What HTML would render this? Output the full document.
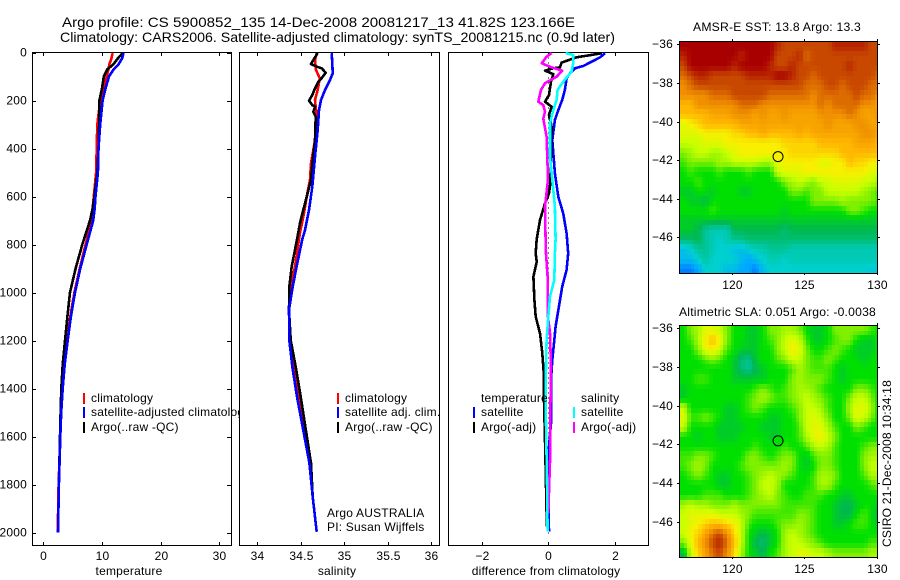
<!DOCTYPE html>
<html>
<head>
<meta charset="utf-8">
<title>Argo profile</title>
<style>
html,body{margin:0;padding:0;background:#fff;width:900px;height:580px;overflow:hidden}
svg{display:block;font-family:"Liberation Sans",sans-serif;fill:#000}
text{font-size:12px;letter-spacing:.2px}
.ttl{font-size:14px;letter-spacing:0}
</style>
</head>
<body>
<svg id="chart" width="900" height="580" viewBox="0 0 900 580" xmlns="http://www.w3.org/2000/svg">
<defs>
<clipPath id="clip-sst"><rect x="680" y="42" width="197" height="231"/></clipPath>
<clipPath id="clip-sla"><rect x="680" y="326" width="197" height="231"/></clipPath>
</defs>
<rect width="900" height="580" fill="#fff"/>
<g id="layer"></g>
<text class="ttl" x="62" y="27" textLength="513" lengthAdjust="spacingAndGlyphs">Argo profile: CS 5900852_135 14-Dec-2008 20081217_13 41.82S 123.166E</text>
<text class="ttl" x="60" y="42" textLength="555" lengthAdjust="spacingAndGlyphs">Climatology: CARS2006. Satellite-adjusted climatology: synTS_20081215.nc (0.9d later)</text>
<text x="129" y="575" text-anchor="middle">temperature</text>
<text x="337" y="575" text-anchor="middle">salinity</text>
<text x="546" y="575" text-anchor="middle">difference from climatology</text>
<text x="693" y="31" textLength="168" lengthAdjust="spacingAndGlyphs">AMSR-E SST: 13.8 Argo: 13.3</text>
<text x="679" y="316" textLength="197" lengthAdjust="spacingAndGlyphs">Altimetric SLA: 0.051 Argo: -0.0038</text>
<text transform="translate(891,547) rotate(-90)" textLength="167" lengthAdjust="spacingAndGlyphs">CSIRO 21-Dec-2008 10:34:18</text>
<text x="327" y="517">Argo AUSTRALIA</text>
<text x="327" y="531">PI: Susan Wijffels</text>
</svg>
<script>
// ---------- profile data ----------
const depthTicks = [0,200,400,600,800,1000,1200,1400,1600,1800,2000];
const tempTicks = [0,10,20,30];
const salTicks = [34,34.5,35,35.5,36];
const salTickLabels = ['34','34.5','35','35.5','36'];
const diffTicks = [-2,0,2];

const tempDepths = [3,25,50,70,100,150,200,300,400,500,600,650,700,800,900,1000,1100,1200,1300,1400,1500,1600,1800,2000];
const tempClim = [11.8,11.6,11.25,11.1,10.8,10.3,9.7,9.2,9.1,9.0,8.6,8.4,8.2,7.2,6.2,5.3,4.6,4.0,3.6,3.2,3.0,2.9,2.6,2.45];
const tempSat = [13.7,13.4,12.8,12.0,11.2,10.6,10.1,9.7,9.4,9.3,8.9,8.75,8.5,7.4,6.3,5.4,4.7,4.15,3.65,3.3,3.05,2.9,2.65,2.5];
const tempArgo = [13.5,12.7,11.9,10.9,10.3,10.0,9.55,9.5,9.4,9.2,8.7,8.4,7.95,6.65,5.5,4.55,4.1,3.7,3.3,3.07,2.95,2.85,2.65,2.5];

const salClimDepths = [3,31,73,108,156,198,240,267,365,462,531,601,670,753,892,976,1073,1198,1309,1434,1711,1851,1997];
const salClim = [34.684,34.664,34.676,34.72,34.695,34.664,34.676,34.684,34.664,34.618,34.607,34.569,34.538,34.49,34.434,34.385,34.365,34.375,34.42,34.48,34.61,34.638,34.684];
const salSatDepths = [3,45,87,115,156,198,240,323,434,559,656,740,778,892,976,1073,1198,1309,1434,1711,1851,1997];
const salSat = [34.857,34.864,34.868,34.837,34.78,34.733,34.71,34.695,34.664,34.633,34.595,34.549,34.518,34.453,34.408,34.365,34.368,34.403,34.457,34.6,34.638,34.684];
const salArgoDepths = [3,20,48,59,66,84,103,122,156,177,201,219,226,247,267,365,462,531,601,656,711,773,892,976,1073,1198,1309,1434,1711,1851,1997];
const salArgo = [34.695,34.664,34.618,34.684,34.741,34.787,34.749,34.703,34.656,34.633,34.595,34.633,34.664,34.645,34.672,34.664,34.633,34.618,34.569,34.53,34.492,34.461,34.396,34.368,34.365,34.385,34.442,34.5,34.618,34.638,34.684];

const diffTempSatDepths = [3,20,38,56,66,87,108,156,198,240,281,365,503,601,670,753,837,906,976,1059,1142,1198,1281,1365,1545,1642,1781,1996];
const diffTempSat = [1.71,1.56,1.31,1.06,.80,.65,.55,.50,.42,.30,.20,.12,.20,.30,.45,.55,.60,.55,.42,.32,.22,.18,.12,.08,.08,.02,0,.02];
const diffTempArgoDepths = [3,10,20,42,62,66,76,90,122,177,205,226,260,309,434,545,587,629,698,778,837,872,934,1031,1101,1170,1253,1351,1448,1615,1726,1920,1976];
const diffTempArgo = [1.61,1.31,.85,.40,.35,.15,-.10,.15,.08,.02,-.10,.10,.02,.10,.08,.06,.02,-.10,-.25,-.35,-.38,-.35,-.45,-.42,-.38,-.25,-.18,-.13,-.13,-.10,-.08,-.05,-.05];
const diffSalSatDepths = [3,10,45,80,122,156,198,240,295,434,531,642,778,837,948,1017,1101,1198,1309,1448,1781,1996];
const diffSalSat = [.52,.75,.75,.70,.45,.28,.25,.15,.05,.05,.12,.20,.22,.20,.18,.05,0,-.05,-.07,-.08,-.04,-.02];
const diffSalArgoDepths = [3,17,45,62,76,101,128,156,205,219,247,275,351,476,545,642,778,837,934,1087,1170,1309,1503,1670,1753,1920];
const diffSalArgo = [.10,-.05,-.20,.10,.42,.25,-.10,-.22,-.30,-.15,-.10,-.15,-.05,-.02,-.02,-.10,-.08,-.07,-.02,-.02,.05,.08,.06,.06,.04,0];

// ---------- map data (colour-scale units, 0 = blue ... 12 = dark red) ----------
const lonTicks = [120,125,130];
const latTicks = [-36,-38,-40,-42,-44,-46];
const gridLonStart = 116.38;
const gridLonStep = 0.5;
const gridLatStart = -35.87;
const gridLatStep = -0.5;
const argoLon = 123.17;
const argoLat = -41.82;
const argoSst = 8;
const argoSla = 5;
const sstGrid = [
[12,12,12,12,12,12,12,12,12,12,12,12,12,11.5,11,11,11,11,11,11,11,11.5,11.5,11.5,11.5,11.5,11,11],
[11.5,12,12,12,12,12,12,12,11.5,12,12,12,12,11,11,11,11.5,10.5,11,11,11,11,11,11,11,11,11,11],
[11,12,12,12,12,12,12,11.5,12,12,12,12,11.5,11,11,11.5,11,11,11,11,11,11,11,11.5,11,11,11,11],
[10.5,11,11.5,11.5,11,11,11,11,11,11.5,11.5,11.5,11.5,12,12,11.5,11,11,10.5,11,11,11,11,11,11,11,11,10.5],
[10,10.5,11,11,11,11,11,11,11,11,11,11,11,11,11,11,11,10.5,10.5,10.5,11,11,10.5,11,11,11,10.5,10.5],
[10,10,10,10,10.5,10.5,10.5,11,11,11,11,11,10.5,10.5,10.5,10.5,10.5,10.5,10,10.5,10.5,10.5,10.5,10.5,11,10.5,10.5,10],
[9,9,10,10,10,10,10,10,10.5,10.5,10.5,10,10,10,10,10,10,10,10,10.5,10,10.5,10.5,10.5,10.5,10,10,9.5],
[9,9,9,9,9.5,9.5,9.5,10,10,10,9.5,10,9.5,9.5,10,9.5,9.5,9.5,9.5,10,10,10,10,10.5,10,9.5,9.5,10],
[7.5,8,8.5,9,9,9,9,9,9.5,9.5,9.5,9.5,9.5,9.5,9.5,9.5,9.5,9.5,9.5,9.5,10,9.5,9.5,9.5,10,10,9.5,9.5],
[7.5,7.5,7.5,8,8,8,8,8.5,8.5,9,9,9.5,9,9,9,9,9.5,9,9.5,9.5,9.5,9.5,9.5,9.5,9.5,10,10,9.5],
[7,7,7,7.5,7.5,7.5,8,8,8,8,8,8,8,8,8.5,8.5,8.5,8.5,8.5,9,9,9,9,9,9.5,9.5,9.5,9],
[6,6.5,7,7,6.5,6.5,7,7.5,8,8,8,8,8,8,8,8.5,8.5,8.5,8.5,8.5,8.5,8.5,9,9,9,9,9,9],
[5.5,6,6,6,6,6.5,6.5,7,7,7,7,6.5,6.5,7.5,8,8,8,8,8,7.5,7.5,8,8,9,8.5,8.5,8,8],
[5,5.5,5,5,5,5.5,5,5,5,5.5,5,5,5,7,7.5,7.5,7.5,8,8,8,8,8,8,8,8,8,7.5,7],
[5,5,5.5,5,5,5,5,5,5,5,5,5,5,5,6,6.5,7,6.5,6,7,7,7.5,7.5,7.5,7.5,7,7,6.5],
[4.5,4.5,5,5,4.5,5,5,5,4.5,4.5,5,5,5,5,5,6,6,5.5,6,6,7,7,7,7,7,6.5,6,5.5],
[5,4.5,4.5,4,5,5,5,5,5,5,5,5,5,5,5,5,5,5,6,6,6,6,6.5,6,6,6,6,5.5],
[5,5,5,5,5.5,5,5,5,5,5,5,5,5,5,4.5,5,5,5,5,5,5,5,5,6,6,5.5,5,5],
[4.5,4.5,4.5,4.5,4.5,4.5,4.5,4.5,4.5,4.5,4.5,4.5,4.5,4.5,4.5,4.5,4.5,4.5,4.5,4.5,4.5,4.5,4.5,4.5,4.5,4.5,4.5,4.5],
[4.5,4.5,4,3,2.5,2.5,2.5,4,4,4,4,4,4,4,3.5,4,4,4,4,4,4,4,4,4,4,4,4,4],
[3.5,3.5,4,3,2.5,2,2.5,3,3,3.5,3.5,3.5,3.5,3.5,3.5,3.5,3.5,3.5,3.5,3.5,3.5,3.5,3.5,3.5,3.5,3.5,3.5,3.5],
[1.5,2,3,3,2.5,2,2,1.5,1.5,2,2.5,2.5,3,3,3,2.5,2.5,2.5,2.5,2.5,2.5,2.5,2.5,2.5,2.5,2.5,2.5,2.5],
[1.5,1.5,2,3,2,2,2,2,1.5,1,1.5,2,2.5,2.5,2,2.5,2.5,2.5,2.5,2.5,2.5,2.5,2.5,2.5,2.5,2.5,2.5,2.5],
[.5,.5,1,2,2,2,1.5,1.5,1,1,.5,1.5,2,2,2,2,2,2,2,2,2,2,2,2,2,2,1.8,1.8]
];
const slaGrid = [
[5,6,6.5,7.5,7.5,7,6,5,5,4.5,4.5,5,6,6,6.5,6.5,6,5,4.5,4.5,5,6,6,6,6,6,5.5,5],
[5,5.5,6.5,8,9,8,6,5,5,4.5,4.5,5,5.5,6,7,7.5,7,5.5,4.5,4.5,5,5.5,6,6,5,4.5,4.5,5],
[5,5,6,7.5,8,7,5.5,5,4.5,4.5,4.5,5,5,6,7,8,7.5,6,5,5,5.5,6,5.5,5,4.5,4.5,4.5,5],
[5,5,5,5.5,6,5.5,5,4.5,3.5,3,4.5,5,5,5.5,6,7,7,6,5.5,5.5,6,5.5,5,5,5,4.5,5,5],
[5,5,5,5,5,5,5,4.5,3.5,3,4,4.5,5,5,5,5.5,6.5,6,5.5,5.5,5.5,5,4.5,5,5,5,5,5],
[5,5,5.5,5.5,5,5,5,4.5,4.5,4.5,4.5,4.5,5,5,5,6,6.5,6,6,6,5.5,5,4.5,5,5,5,5,5],
[4.5,5,5,5,5,5,5,5,5,5,5.5,6,5.5,5,5.5,6,6.5,6.5,6,5.5,5,5,5,5,6,6,5.5,5],
[4.5,5,5,5,5,5,5,5,5,5.5,6,6.5,6,5.5,5.5,6,6.5,7,6.5,6,5.5,5,5,6,7,7,6,5],
[7,5,5,5,5,5,4.5,4.5,5,5.5,6,5.5,5,5,5,5.5,6,7,7,6.5,5.5,5,5,6.5,7.5,7.5,6.5,5],
[7.5,5.5,5.5,6,5.5,5,4.5,4.5,5,5,5,5,4.5,4.5,5,5,6,7,7.5,7,6,5,5,6,7.5,7,6,5],
[7,5,5,5,5,4.5,4.5,4.5,4.5,5,5,4.5,4.5,4.5,5,5,5.5,7,7.5,7.5,6.5,5.5,5,5,6,5.5,5,5],
[5,5,4.5,5,5,4.5,4.5,4.5,5,5,5,5,4.5,4.5,5,5,5.5,6.5,7.5,8,7,6,5,5,5,5,5,5],
[5,5,5,5,5,5,5,5,5,5,5.5,5,5,5,5.5,5,5,5.5,6.5,7,6.5,5.5,5,5,5,5.5,6,6],
[5.5,5.5,6,6,5.5,5,5,5,5,6,6,5.5,5,5.5,6,6,5,4.5,5.5,6,6,5.5,5,5,5,6,6.5,6.5],
[5.5,6,6.5,6,5,5,5,5,5.5,6,6,6,6,6,6.5,6,5,4.5,5,6,6,5.5,5,5,5,6,7,7],
[5,5.5,6,5.5,5,4.5,4.5,5,5,5.5,6,6.5,7,6.5,6,5.5,5,5,5.5,6.5,6.5,6,5,5,5,5.5,6.5,6.5],
[5,5,5,5,5,4.5,4.5,5,5,5.5,6,7,7,6.5,5,5,5,5,5.5,6.5,6.5,5.5,5,5,5,5,5.5,6],
[5,5,5,5.5,5.5,5.5,5,5,5,5.5,6,6.5,7,6,5.5,5,5,5.5,5.5,5.5,5,5,4.5,4.5,5,5,5,5],
[6.5,7,6.5,6.5,6,6,6,6.5,6,6,6,6,6,6,5.5,5.5,5.5,5.5,5.5,5,5,4.5,4,4,4.5,5,5,4.5],
[7,7.5,7.5,7.5,7.5,7,7,7,6.5,6,5.5,5.5,5.5,5.5,5.5,5.5,6,6,5.5,5,5,4.5,4,4,5,5.5,5,4],
[7,7.5,8,8.5,9,9,8.5,8,7,5.5,5,5,5,5.5,6,6,6.5,6,5.5,5,5,4.5,4.5,5,5.5,5.5,5,4.5],
[7,8,8.5,9.5,10.5,11,10,8.5,7,5,4.5,4,4.5,5,6.5,7,6.5,6,5.5,5,5,5,5,5,5,5,5,5],
[6,7.5,9,10,11,11.5,10.5,9,7,5,4,3.5,4.5,5,6.5,7,7,6.5,6,5.5,5,5,5,5,5,5,5.5,5.5],
[4,7,8.5,9.5,10.5,11,10,8.5,6.5,5,4.5,4,5,5.5,6.5,7,7.5,7.5,7,7,6.5,6,6,6,6,6,6.5,6.5]
];

// ---------- axis functions ----------
function yDepth(d){return 52.5+0.24*d;}
function xTemp(v){return 43.3+5.87*v;}
function xSal(v){return 257.3+86.85*(v-34);}
function xDiff(v){return 548.3+33.2*v;}
function mapX(lon){return 732.3+14.43*(lon-120);}
function sstY(lat){return 44.3+19.3*(-36-lat);}
function slaY(lat){return 328.3+19.33*(-36-lat);}

const colorStops = [[0,[0,80,255]],[1,[0,168,255]],[2,[0,208,208]],[3,[0,196,150]],[4,[0,184,80]],[5,[0,224,0]],[6,[128,240,0]],[7,[200,255,0]],[8,[248,240,0]],[9,[255,184,0]],[10,[240,144,0]],[11,[200,72,0]],[12,[168,0,0]]];
function colorOf(v){
  const c=Math.max(0,Math.min(12,v));
  const i=Math.min(11,Math.floor(c));
  const t=c-i;
  const a=colorStops[i][1],b=colorStops[i+1][1];
  return 'rgb('+[0,1,2].map(k=>Math.round(a[k]+(b[k]-a[k])*t)).join(',')+')';
}

const NS='http://www.w3.org/2000/svg';
const layer=document.getElementById('layer');
function mk(tag,attrs,parent){
  const el=document.createElementNS(NS,tag);
  for(const k in attrs){el.setAttribute(k,attrs[k]);}
  (parent||layer).appendChild(el);
  return el;
}
function seg(x1,y1,x2,y2,parent){
  const el=mk('line',{x1:x1,y1:y1,x2:x2,y2:y2,stroke:'#000','stroke-width':1,'shape-rendering':'crispEdges'},parent);
  
  
  return el;
}
function label(str,x,y,anchor,parent){
  const el=mk('text',{x:x,y:y,'text-anchor':anchor},parent);
  el.textContent=str;
  
  
  return el;
}

function panel(name,L,R,T,B){
  const g=mk('g',{});
  
  
  const r=mk('rect',{x:L+.5,y:T+.5,width:R-L,height:B-T,fill:'#fff',stroke:'#000','stroke-width':1,'shape-rendering':'crispEdges'},g);
  
  
  return g;
}
function xTicks(g,ticks,labels,fn,T,B){
  ticks.forEach(function(t,i){
    const x=Math.round(fn(t))+.5;
    seg(x,T,x,T+4,g);
    seg(x,B-3,x,B,g);
    label(labels[i],x,560,'middle',g);
  });
}
function series(g,name,color,depths,values,xFn){
  const pts=depths.map(function(d,i){return xFn(values[i]).toFixed(1)+','+yDepth(d).toFixed(1);}).join(' ');
  const el=mk('polyline',{points:pts,fill:'none',stroke:color,'stroke-width':2.6,'shape-rendering':'crispEdges','stroke-linejoin':'round'},g);
  
  
}
function legendEntry(g,name,color,mx,tx,base,str){
  const m=mk('rect',{x:mx,y:base-9,width:2,height:11,fill:color,'shape-rendering':'crispEdges'},g);
  
  
  const t=mk('text',{x:tx,y:base},g);
  t.textContent=str;
  
  
}

// temperature panel
const p1=panel('temperature-panel',32,231,52,545);
depthTicks.forEach(function(d){
  const y=Math.round(yDepth(d))+.5;
  seg(32,y,36,y,p1);
  seg(227,y,231,y,p1);
  label(String(d),27,y+3,'end',p1);
});
xTicks(p1,tempTicks,tempTicks.map(String),xTemp,52,545);
series(p1,'temperature-climatology-line','#f00',tempDepths,tempClim,xTemp);
series(p1,'temperature-argo-line','#000',tempDepths,tempArgo,xTemp);
series(p1,'temperature-satellite-line','#00f',tempDepths,tempSat,xTemp);
legendEntry(p1,'legend-climatology','#f00',83,91,402,'climatology');
legendEntry(p1,'legend-satellite-adjusted','#00f',83,91,416,'satellite-adjusted climatology');
legendEntry(p1,'legend-argo','#000',83,91,431,'Argo(..raw -QC)');

// salinity panel
const p2=panel('salinity-panel',239,439,52,545);
xTicks(p2,salTicks,salTickLabels,xSal,52,545);
series(p2,'salinity-climatology-line','#f00',salClimDepths,salClim,xSal);
series(p2,'salinity-argo-line','#000',salArgoDepths,salArgo,xSal);
series(p2,'salinity-satellite-line','#00f',salSatDepths,salSat,xSal);
legendEntry(p2,'legend-sal-climatology','#f00',337,345,402,'climatology');
legendEntry(p2,'legend-sal-satellite','#00f',337,345,416,'satellite adj. clim.');
legendEntry(p2,'legend-sal-argo','#000',337,345,431,'Argo(..raw -QC)');

// difference panel
const p3=panel('difference-panel',448,648,52,545);
xTicks(p3,diffTicks,['\u22122','0','2'],xDiff,52,545);
const zero=mk('line',{x1:Math.round(xDiff(0))+.5,x2:Math.round(xDiff(0))+.5,y1:yDepth(0),y2:yDepth(2020),stroke:'#000','stroke-width':1,'stroke-dasharray':'1 4','shape-rendering':'crispEdges'},p3);


series(p3,'diff-temp-satellite-line','#00f',diffTempSatDepths,diffTempSat,xDiff);
series(p3,'diff-temp-argo-line','#000',diffTempArgoDepths,diffTempArgo,xDiff);
series(p3,'diff-sal-argo-line','#f0f',diffSalArgoDepths,diffSalArgo,xDiff);
series(p3,'diff-sal-satellite-line','#0ff',diffSalSatDepths,diffSalSat,xDiff);
const hT=mk('text',{x:481,y:402},p3);
hT.textContent='temperature';


const hS=mk('text',{x:581,y:402},p3);
hS.textContent='salinity';


legendEntry(p3,'legend-diff-temp-satellite','#00f',473,481,416,'satellite');
legendEntry(p3,'legend-diff-temp-argo','#000',473,481,431,'Argo(-adj)');
legendEntry(p3,'legend-diff-sal-satellite','#0ff',573,581,416,'satellite');
legendEntry(p3,'legend-diff-sal-argo','#f0f',573,581,431,'Argo(-adj)');

// maps: each grid value is shaded over two half-cells per axis (bilinear), matching the source's finer pixels
function sampleGrid(grid,r,c){
  const rr=Math.max(0,Math.min(grid.length-1,r));
  const cc=Math.max(0,Math.min(grid[0].length-1,c));
  const r0=Math.floor(rr),c0=Math.floor(cc);
  const r1=Math.min(grid.length-1,r0+1),c1=Math.min(grid[0].length-1,c0+1);
  const fr=rr-r0,fc=cc-c0;
  return grid[r0][c0]*(1-fr)*(1-fc)+grid[r0][c1]*(1-fr)*fc+grid[r1][c0]*fr*(1-fc)+grid[r1][c1]*fr*fc;
}
function drawMap(name,grid,yFn,clipId,T,B,xLabelY,argoValue){
  const g=mk('g',{});
  
  
  const cells=mk('g',{'clip-path':'url(#'+clipId+')'},g);
  
  
  for(let r=0;r<grid.length*2;r++){
    for(let c=0;c<grid[0].length*2;c++){
      const v=sampleGrid(grid,(r-.5)/2,(c-.5)/2);
      const x0=Math.round(mapX(gridLonStart+c/2*gridLonStep));
      const x1=Math.round(mapX(gridLonStart+(c+1)/2*gridLonStep));
      const y0=Math.round(yFn(gridLatStart+r/2*gridLatStep));
      const y1=Math.round(yFn(gridLatStart+(r+1)/2*gridLatStep));
      const cell=mk('rect',{x:x0,y:y0,width:x1-x0,height:y1-y0,fill:colorOf(v),'shape-rendering':'crispEdges'},cells);
      
      
    }
  }
  const fr=mk('rect',{x:679.5,y:T+.5,width:198,height:B-T,fill:'none',stroke:'#000','stroke-width':1,'shape-rendering':'crispEdges'},g);
  
  
  latTicks.forEach(function(l){
    const y=Math.round(yFn(l))+.5;
    seg(677,y,680,y,g);
    seg(877,y,880,y,g);
    label('\u2212'+Math.abs(l),673,y+3.5,'end',g);
  });
  lonTicks.forEach(function(l){
    const x=Math.round(mapX(l))+.5;
    seg(x,T-2,x,T,g);
    seg(x,B,x,B+2,g);
    label(String(l),x,xLabelY,'middle',g);
  });
  const m=mk('circle',{cx:mapX(argoLon),cy:yFn(argoLat),r:5,fill:colorOf(argoValue),stroke:'#000','stroke-width':1},g);
  
  
}
drawMap('sst-map',sstGrid,sstY,'clip-sst',41,273,289,argoSst);
drawMap('sla-map',slaGrid,slaY,'clip-sla',325,557,573,argoSla);
</script>
</body>
</html>
